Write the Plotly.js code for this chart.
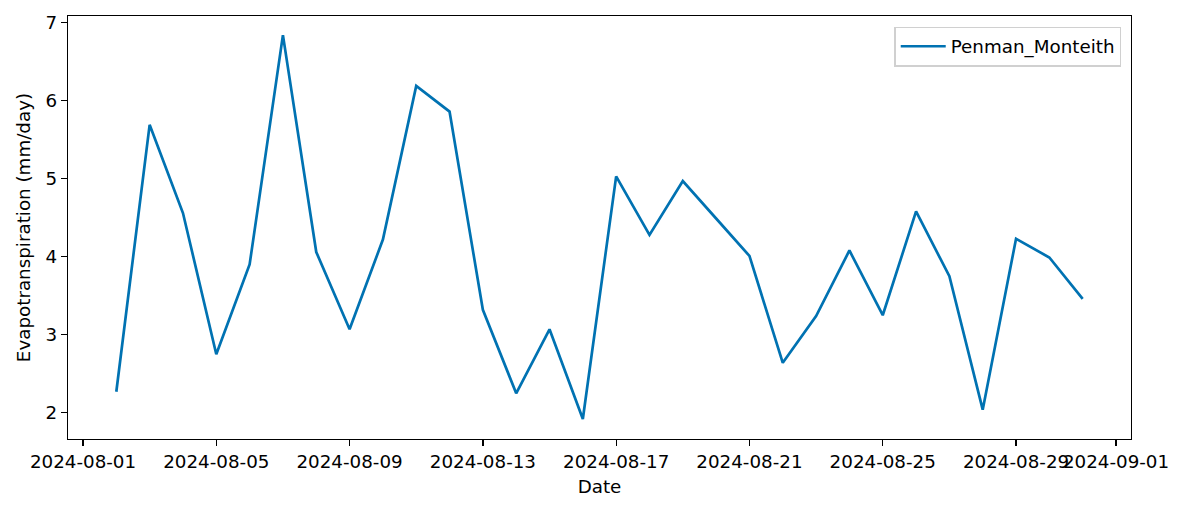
<!DOCTYPE html>
<html>
<head>
<meta charset="utf-8">
<script src="https://cdn.plot.ly/plotly-3.0.1.min.js"></script>
<style>
html, body { margin: 0; padding: 0; background: #ffffff; }
#chart { width: 1200px; height: 510px; }
</style>
</head>
<body>
<div id="chart"></div>
<script>
// Daily dates
const dates = [
  "2024-08-02", "2024-08-03", "2024-08-04", "2024-08-05", "2024-08-06",
  "2024-08-07", "2024-08-08", "2024-08-09", "2024-08-10", "2024-08-11",
  "2024-08-12", "2024-08-13", "2024-08-14", "2024-08-15", "2024-08-16",
  "2024-08-17", "2024-08-18", "2024-08-19", "2024-08-20", "2024-08-21",
  "2024-08-22", "2024-08-23", "2024-08-24", "2024-08-25", "2024-08-26",
  "2024-08-27", "2024-08-28", "2024-08-29", "2024-08-30", "2024-08-31"
];

// Penman-Monteith evapotranspiration (mm/day)
const penmanMonteith = [
  2.27, 5.69, 4.56, 2.75, 3.90,
  6.84, 4.06, 3.07, 4.22, 6.19,
  5.86, 3.32, 2.25, 3.07, 1.92,
  5.03, 4.28, 4.97, 4.49, 4.01,
  2.64, 3.24, 4.08, 3.25, 4.58,
  3.75, 2.04, 4.23, 3.99, 3.46
];

const seriesName = "Penman_Monteith";

// X tick labels
const xTickVals = [
  "2024-08-01", "2024-08-05", "2024-08-09", "2024-08-13", "2024-08-17",
  "2024-08-21", "2024-08-25", "2024-08-29", "2024-09-01"
];
const xTickText = xTickVals.slice();

// Y ticks
const yTickVals = [2, 3, 4, 5, 6, 7];

const fontFamily = "DejaVu Sans, sans-serif";
const fs = 18.3;

const trace = {
  x: dates,
  y: penmanMonteith,
  type: "scatter",
  mode: "lines",
  name: seriesName,
  line: { color: "#0072B2", width: 2.7 },
  showlegend: true
};

const layout = {
  width: 1200,
  height: 510,
  margin: { l: 68, r: 69, t: 16, b: 71, pad: 0 },
  paper_bgcolor: "#ffffff",
  plot_bgcolor: "#ffffff",
  font: { family: fontFamily, size: fs, color: "#000000" },
  showlegend: true,
  xaxis: {
    type: "date",
    range: ["2024-07-31 13:12", "2024-09-01 10:48"],
    tickmode: "array",
    tickvals: xTickVals,
    ticktext: xTickText,
    tickangle: 0,
    ticks: "outside",
    ticklen: 6,
    tickwidth: 1.3,
    tickcolor: "#000000",
    showline: true,
    linecolor: "#000000",
    linewidth: 1.3,
    mirror: true,
    showgrid: false,
    zeroline: false,
    tickfont: { family: fontFamily, size: fs, color: "#000000" },
    title: { text: "Date", font: { family: fontFamily, size: fs, color: "#000000" }, standoff: 9 }
  },
  yaxis: {
    range: [1.664, 7.085],
    tickmode: "array",
    tickvals: yTickVals,
    ticktext: yTickVals.map(String),
    ticks: "outside",
    ticklen: 6,
    tickwidth: 1.3,
    tickcolor: "#000000",
    showline: true,
    linecolor: "#000000",
    linewidth: 1.3,
    mirror: true,
    showgrid: false,
    zeroline: false,
    tickfont: { family: fontFamily, size: fs, color: "#000000" },
    title: { text: "Evapotranspiration (mm/day)", font: { family: fontFamily, size: fs, color: "#000000" }, standoff: 10 }
  },
  legend: {
    x: 0.991,
    y: 0.975,
    xanchor: "right",
    yanchor: "top",
    itemwidth: 45,
    bgcolor: "rgba(255,255,255,0.8)",
    bordercolor: "#d0d0d0",
    borderwidth: 1.3,
    font: { family: fontFamily, size: fs, color: "#000000" }
  }
};

Plotly.newPlot("chart", [trace], layout, { displayModeBar: false, staticPlot: true });
</script>
</body>
</html>
